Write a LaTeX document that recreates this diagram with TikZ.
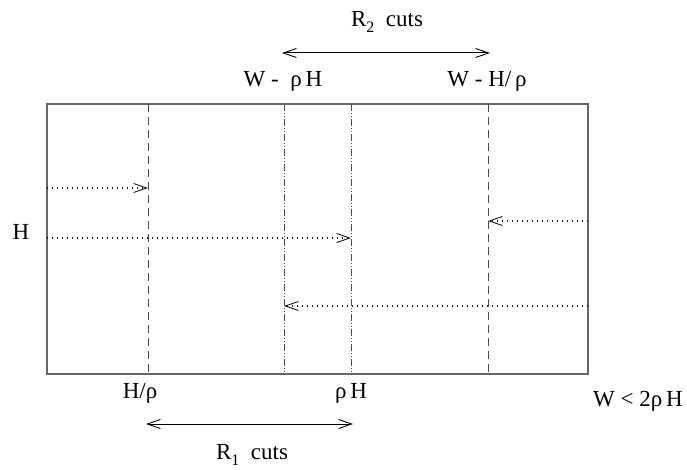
\documentclass[tikz,border=0pt]{standalone}
\usepackage{fontspec}
\setmainfont{Liberation Serif}
\usetikzlibrary{arrows.meta}
\newcommand{\subs}[1]{\raisebox{-0.5ex}{\fontsize{16}{16}\selectfont #1}}
\tikzset{
  lbl/.style={font=\fontsize{23}{26}\selectfont, inner sep=0pt},
  frame/.style={draw=black!60, line width=1.5pt},
  cutA/.style={draw=black!70, line width=1pt, dash pattern=on 8pt off 5pt},
  cutB/.style={draw=black!70, line width=1pt, dash pattern=on 7pt off 2pt on 1pt off 2pt on 1pt off 2pt},
  barb/.tip={Straight Barb[length=13pt,width=9pt,line width=0.9pt]},
  flow/.style={draw=black!90, line width=1.2pt, dash pattern=on 1pt off 4pt, -barb},
  span/.style={draw=black, line width=1pt, barb-barb}
}
\begin{document}
\begin{tikzpicture}[x=1pt,y=-1pt]
\useasboundingbox (0,0) rectangle (687,470);
% frame
\coordinate (TL) at (47,104);
\coordinate (BR) at (588,374);
\draw[frame] (TL) rectangle (BR);
% cut lines
\coordinate (a1) at (148,104); \coordinate (a2) at (148,374);
\coordinate (b1) at (284,104); \coordinate (b2) at (284,374);
\coordinate (c1) at (351,104); \coordinate (c2) at (351,374);
\coordinate (d1) at (488,104); \coordinate (d2) at (488,374);
\draw[cutA] (a1) -- (a2);
\draw[cutB] (b1) -- (b2);
\draw[cutB] (c1) -- (c2);
\draw[cutA] (d1) -- (d2);
% flows
\coordinate (f1s) at (47,188); \coordinate (f1e) at (148,188);
\coordinate (f2s) at (47,238); \coordinate (f2e) at (351,238);
\coordinate (f3s) at (588,221); \coordinate (f3e) at (488,221);
\coordinate (f4s) at (588,306); \coordinate (f4e) at (284,306);
\draw[flow] (f1s) -- (f1e);
\draw[flow] (f2s) -- (f2e);
\draw[flow] (f3s) -- (f3e);
\draw[flow] (f4s) -- (f4e);
% labels
\node[lbl] (H) at (21,232) {H};
\node[lbl] (wrh) at (283,81) {W -\ \ ρ\,H};
\node[lbl] (whr) at (487,81) {W - H/\,ρ};
\node[lbl] (hr) at (140,393) {H/ρ};
\node[lbl] (rh) at (351,393) {ρ\,H};
\node[lbl] (cond) at (638,401) {W < 2ρ\,H};
\node[lbl] (r2) at (387,22) {R\subs{2}\ \ cuts};
\node[lbl] (r1) at (252,455) {R\subs{1}\ \ cuts};
% spans
\coordinate (s2a) at (282,53); \coordinate (s2b) at (490,53);
\coordinate (s1a) at (146,424); \coordinate (s1b) at (353,424);
\draw[span] (s2a) -- (s2b);
\draw[span] (s1a) -- (s1b);
\end{tikzpicture}
\end{document}
